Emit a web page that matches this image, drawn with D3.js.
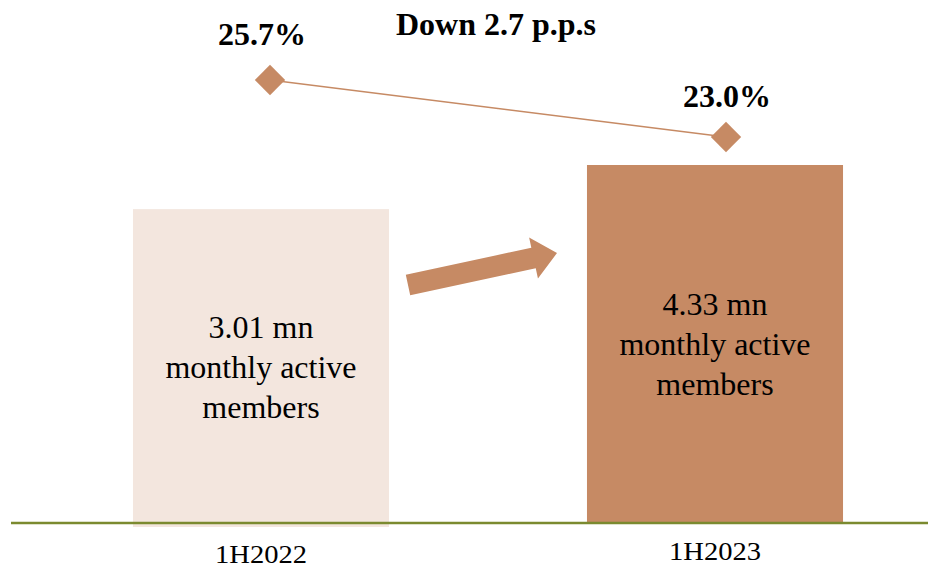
<!DOCTYPE html>
<html>
<head>
<meta charset="utf-8">
<script src="https://cdn.jsdelivr.net/npm/d3@7"></script>
<style>
  body { margin: 0; background: #fff; }
  svg { display: block; font-family: "Liberation Serif", "Times New Roman", serif; }
</style>
</head>
<body>
<svg id="chart" width="928" height="569"></svg>
<script>
const width = 928;
const height = 569;

const periods = ["1H2022", "1H2023"];
const members = [3.01, 4.33];
const memberLabels = [["3.01 mn", "monthly active", "members"], ["4.33 mn", "monthly active", "members"]];
const shares = [25.7, 23.0];
const shareLabels = ["25.7%", "23.0%"];
const changeLabel = "Down 2.7 p.p.s";

const barColors = ["#f3e6de", "#c68a64"];
const accent = "#c68a64";

const svg = d3.select("#chart");

const x = d3.scaleBand().domain(periods).range([34, 942]).paddingInner(0.436).paddingOuter(0.218);
const baseY = 523;
const yBar = d3.scaleLinear().domain([-6.38, 4.33]).range([baseY, 165]);
const yLine = d3.scaleLinear().domain([23.0, 25.7]).range([137, 80]);

// bars
svg.selectAll("rect.bar").data(periods).enter()
    .append("rect")
    .attr("class", "bar")
    .attr("x", d => x(d))
    .attr("y", (d, i) => yBar(members[i]))
    .attr("width", x.bandwidth())
    .attr("height", (d, i) => baseY - yBar(members[i]) + (i === 0 ? 4 : 0))
    .attr("fill", (d, i) => barColors[i]);

// text inside bars
const firstBaseline = [338, 315];
periods.forEach(function (p, i) {
    const cx = x(p) + x.bandwidth() / 2;
    memberLabels[i].forEach(function (line, j) {
        svg.append("text")
            .attr("x", cx)
            .attr("y", firstBaseline[i] + j * 40)
            .attr("text-anchor", "middle")
            .attr("font-size", 32)
            .attr("fill", "#000")
            .text(line);
    });
});

// baseline
svg.append("line")
    .attr("x1", 11).attr("x2", width)
    .attr("y1", baseY).attr("y2", baseY)
    .attr("stroke", "#7b8a2f")
    .attr("stroke-width", 2.5);

// category labels
svg.selectAll("text.cat").data(periods).enter()
    .append("text")
    .attr("class", "cat")
    .attr("x", d => x(d) + x.bandwidth() / 2 - 46)
    .attr("y", (d, i) => i === 0 ? 563 : 560)
    .attr("font-size", 25)
    .attr("textLength", 92)
    .attr("lengthAdjust", "spacingAndGlyphs")
    .text(d => d);

// arrow between bars
const arrow = { x0: 408, y0: 285, x1: 557, y1: 253, shaft: 21, head: 42, headLen: 24 };
const ang = Math.atan2(arrow.y1 - arrow.y0, arrow.x1 - arrow.x0);
const len = Math.hypot(arrow.x1 - arrow.x0, arrow.y1 - arrow.y0);
const s = arrow.shaft / 2, h = arrow.head / 2, b = len - arrow.headLen;
svg.append("path")
    .attr("d", d3.line()([[0, -s], [b, -s], [b, -h], [len, 0], [b, h], [b, s], [0, s]]) + "Z")
    .attr("transform", `translate(${arrow.x0},${arrow.y0}) rotate(${ang * 180 / Math.PI})`)
    .attr("fill", accent);

// share line
const px = (d, i) => x(d) + x.bandwidth() / 2 + (i === 0 ? 9 : 11);
svg.append("path")
    .datum(periods)
    .attr("d", d3.line().x((d, i) => px(d, i)).y((d, i) => yLine(shares[i])))
    .attr("fill", "none")
    .attr("stroke", accent)
    .attr("stroke-width", 1.5);

svg.selectAll("path.dot").data(periods).enter()
    .append("path")
    .attr("class", "dot")
    .attr("d", d3.symbol().type(d3.symbolSquare).size(460))
    .attr("transform", (d, i) => `translate(${px(d, i)},${yLine(shares[i])}) rotate(45)`)
    .attr("fill", accent);

// share labels
svg.selectAll("text.share").data(periods).enter()
    .append("text")
    .attr("class", "share")
    .attr("x", (d, i) => px(d, i) + (i === 0 ? -8 : 1))
    .attr("y", (d, i) => yLine(shares[i]) - (i === 0 ? 35 : 30))
    .attr("text-anchor", "middle")
    .attr("font-size", 32)
    .attr("font-weight", "bold")
    .text((d, i) => shareLabels[i]);

svg.append("text")
    .attr("x", 496)
    .attr("y", 35)
    .attr("text-anchor", "middle")
    .attr("font-size", 32)
    .attr("font-weight", "bold")
    .text(changeLabel);
</script>
</body>
</html>
